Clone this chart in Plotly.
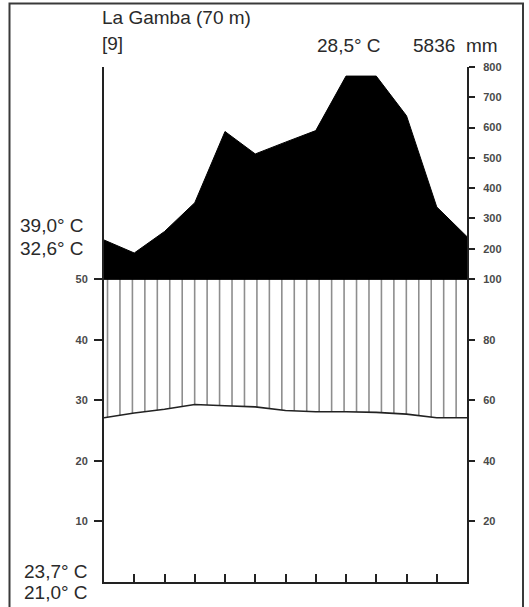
import numpy as np
import plotly.graph_objects as go

# ---- data ----
month_pos = list(range(13))  # month boundaries 0..12
precip_mm = [229, 186, 257, 352, 587, 513, 552, 590, 770, 770, 639, 338, 240]
temp_c = [27.1, 27.9, 28.5, 29.3, 29.1, 28.9, 28.3, 28.1, 28.1, 28.0, 27.7, 27.1, 27.1]

left_tickvals = [10, 20, 30, 40, 50]
right_tick_mm = [20, 40, 60, 80, 100, 200, 300, 400, 500, 600, 700, 800]

station = "La Gamba (70 m)"
years = "[9]"
mean_temp = "28,5° C"
annual_precip = "5836"
abs_max = "39,0° C"
mean_daily_max = "32,6° C"
mean_daily_min = "23,7° C"
abs_min = "21,0° C"

# ---- layout geometry (pixels) ----
W, H = 529, 607
L, R, T, B = 104, 62, 67, 25
PW, PH = W - L - R, H - T - B
YMAX = 85


def to_disp(p):
    # Walter-Lieth scale: 20 mm = 10 °C up to 100 mm, then 1:10 compression
    return p / 2 if p <= 100 else 50 + (p - 100) / 20


def px(x):
    return (x - L) / PW


def py(y):
    return (H - B - y) / PH


precip_disp = [to_disp(p) for p in precip_mm]

fig = go.Figure()

# hatching (humid period) between temperature and 50 °C
hx0, hstep, hn = 0.116, 0.4116, 29
hx, hy = [], []
for k in range(hn):
    xh = hx0 + k * hstep
    bot = float(np.interp(xh, month_pos, temp_c))
    top = min(50.0, float(np.interp(xh, month_pos, precip_disp)))
    hx += [xh, xh, None]
    hy += [bot, top, None]
fig.add_trace(go.Scatter(x=hx, y=hy, mode="lines",
                         line=dict(color="#8e8e8e", width=1.6),
                         hoverinfo="skip", showlegend=False))

# black area: precipitation above 100 mm
fig.add_trace(go.Scatter(x=month_pos + [month_pos[-1], month_pos[0]],
                         y=precip_disp + [50, 50],
                         fill="toself", fillcolor="black", mode="lines",
                         line=dict(color="black", width=1),
                         hoverinfo="skip", showlegend=False))

# temperature line
fig.add_trace(go.Scatter(x=month_pos, y=temp_c, mode="lines",
                         line=dict(color="#222", width=1.6),
                         hoverinfo="skip", showlegend=False))

# horizontal line at 50 / 100
fig.add_trace(go.Scatter(x=[0, 12], y=[50, 50], mode="lines",
                         line=dict(color="black", width=1.5),
                         hoverinfo="skip", showlegend=False))

# invisible trace for right axis
fig.add_trace(go.Scatter(x=[0], y=[0], yaxis="y2", mode="markers",
                         marker=dict(opacity=0), hoverinfo="skip", showlegend=False))

tickfont = dict(family="Liberation Sans", size=11, color="#4a4a4a", weight="bold")

fig.update_layout(
    width=W, height=H,
    margin=dict(l=L, r=R, t=T, b=B),
    paper_bgcolor="white", plot_bgcolor="white",
    xaxis=dict(range=[0, 12], tickvals=list(range(1, 12)), showticklabels=False,
               ticks="inside", ticklen=8, tickwidth=2, tickcolor="#222",
               showline=True, linecolor="#222", linewidth=2,
               showgrid=False, zeroline=False, fixedrange=True),
    yaxis=dict(range=[0, YMAX], tickvals=left_tickvals,
               ticktext=[str(v) for v in left_tickvals],
               ticks="outside", ticklen=8, tickwidth=2, tickcolor="#222",
               showline=True, linecolor="#222", linewidth=2,
               ticklabelstandoff=4, tickfont=tickfont,
               showgrid=False, zeroline=False, fixedrange=True),
    yaxis2=dict(range=[0, YMAX], overlaying="y", side="right",
                tickvals=[to_disp(v) for v in right_tick_mm],
                ticktext=[str(v) for v in right_tick_mm],
                ticks="outside", ticklen=6, tickwidth=2, tickcolor="#222",
                showline=True, linecolor="#222", linewidth=2,
                ticklabelstandoff=6, tickfont=tickfont,
                showgrid=False, zeroline=False, fixedrange=True),
)

tfont = dict(family="Liberation Sans", size=19, color="#2a2a2a")


def ann(text, x, y, xanchor):
    fig.add_annotation(text=text, x=px(x), y=py(y), xref="paper", yref="paper",
                       xanchor=xanchor, yanchor="middle", showarrow=False,
                       font=tfont)


ann(station, 100, 18, "left")
ann(years, 100, 43, "left")
ann(mean_temp, 383, 45, "right")
ann(annual_precip, 457, 45, "right")
ann("mm", 464, 45, "left")
ann(abs_max, 86, 225, "right")
ann(mean_daily_max, 86, 248, "right")
ann(mean_daily_min, 90, 571, "right")
ann(abs_min, 90, 592, "right")

# outer frame
fig.add_shape(type="rect", xref="paper", yref="paper",
              x0=px(9.5), x1=px(523), y0=py(3.5), y1=py(620),
              line=dict(color="#3a3a3a", width=2), layer="below")

fig.write_html("out.html", config={"displayModeBar": False},
               post_script="document.body.style.margin='0';document.body.style.overflow='hidden';")
